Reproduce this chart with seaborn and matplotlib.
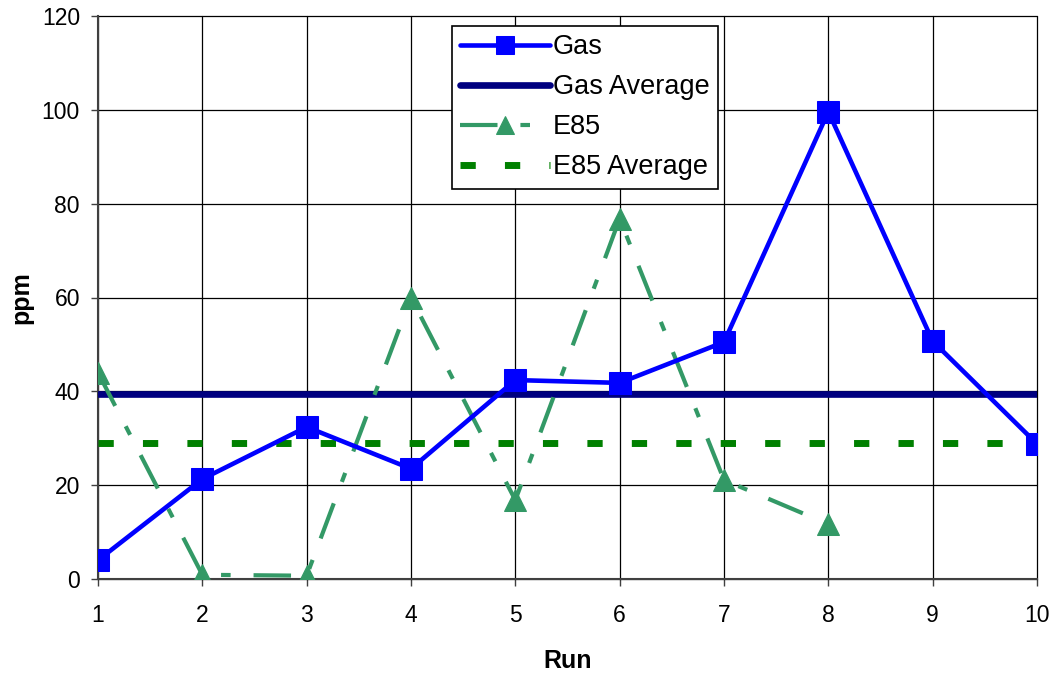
import matplotlib
matplotlib.use("Agg")
import matplotlib.pyplot as plt
import seaborn as sns
import pandas as pd
import numpy as np

runs = [1, 2, 3, 4, 5, 6, 7, 8, 9, 10]
gas = [4.0, 21.3, 32.4, 23.5, 42.4, 41.8, 50.5, 99.6, 50.7, 28.8]
e85_runs = [1, 2, 3, 4, 5, 6, 7, 8]
e85 = [44.0, 0.9, 0.7, 60.0, 16.8, 76.8, 21.1, 11.7]
gas_avg = float(np.mean(gas))
e85_avg = float(np.mean(e85))
y_ticks = [0, 20, 40, 60, 80, 100, 120]

sns.set_style("white")
plt.rcParams['font.family'] = ['Liberation Sans', 'DejaVu Sans']
plt.rcParams['text.color'] = 'black'
plt.rcParams['axes.labelcolor'] = 'black'
plt.rcParams['xtick.color'] = 'black'
plt.rcParams['ytick.color'] = 'black'

fig = plt.figure(figsize=(10.55, 6.76), dpi=100)
ax = fig.add_axes([98/1055, 1 - 579/676, (1037-98)/1055, (579-16)/676])

df_gas = pd.DataFrame({"Run": runs, "ppm": gas})
df_e85 = pd.DataFrame({"Run": e85_runs, "ppm": e85})
df_gavg = pd.DataFrame({"Run": [runs[0], runs[-1]], "ppm": [gas_avg, gas_avg]})
df_eavg = pd.DataFrame({"Run": [runs[0], runs[-1]], "ppm": [e85_avg, e85_avg]})

sns.lineplot(data=df_gavg, x="Run", y="ppm", ax=ax, color="#000080", linewidth=4.8,
             label="Gas Average", zorder=3)
sns.lineplot(data=df_eavg, x="Run", y="ppm", ax=ax, color="#008000", linewidth=5.0,
             label="E85 Average", zorder=3)
ax.lines[-1].set_dashes([2.2, 4.2])
ax.lines[-1].set_dash_capstyle("butt")
sns.lineplot(data=df_e85, x="Run", y="ppm", ax=ax, color="#339966", linewidth=3.0,
             marker="^", markersize=16, markeredgecolor="#339966", label="E85", zorder=4)
ax.lines[-1].set_dashes([9, 5.5, 2.3, 5.5])
ax.lines[-1].set_dash_capstyle("butt")
sns.lineplot(data=df_gas, x="Run", y="ppm", ax=ax, color="#0000FF", linewidth=3.3,
             marker="s", markersize=15.5, markeredgecolor="#0000FF", label="Gas", zorder=5)

ax.set_xlim(runs[0], runs[-1])
ax.set_ylim(0, 120)
ax.set_xticks(runs)
ax.set_yticks(y_ticks)
ax.grid(True, color="black", linewidth=0.9)
for gl in ax.get_xgridlines() + ax.get_ygridlines():
    gl.set_clip_on(False)
ax.set_axisbelow(True)
for s in ["top", "right"]:
    ax.spines[s].set_visible(False)
for s in ["left", "bottom"]:
    ax.spines[s].set_color("#404040")
    ax.spines[s].set_linewidth(1.5)
ax.tick_params(axis="both", direction="out", length=5, width=1, color="#404040",
               labelsize=16.5, labelcolor="black", bottom=True, left=True)
ax.tick_params(axis="x", pad=13)
ax.tick_params(axis="y", pad=8)
ax.set_xlabel("Run", fontsize=18, fontweight="bold", labelpad=16, color="black")
ax.set_ylabel("ppm", fontsize=18, fontweight="bold", labelpad=6, color="black")

handles, labels = ax.get_legend_handles_labels()
order = ["Gas", "Gas Average", "E85", "E85 Average"]
hmap = dict(zip(labels, handles))
leg = ax.legend([hmap[o] for o in order], order, loc="upper left",
                bbox_to_anchor=((452-98)/939, 1 - (26-16)/563), fontsize=19.5,
                frameon=True, fancybox=False, edgecolor="black", framealpha=1,
                handlelength=3.3, borderpad=0.3, labelspacing=0.52, handletextpad=0.12,
                borderaxespad=0, markerscale=0.8)
leg.get_frame().set_linewidth(1.2)
leg.set_zorder(10)
for t in leg.get_texts():
    t.set_color("black")

fig.savefig("out.png", dpi=100)
